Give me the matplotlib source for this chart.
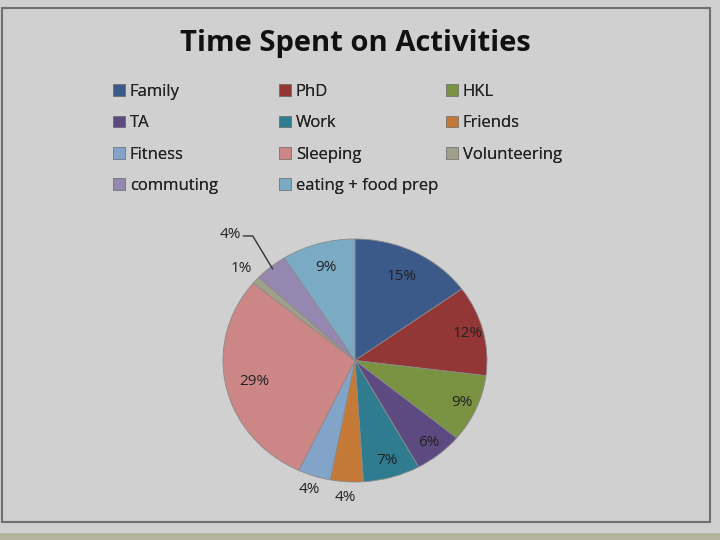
import numpy as np
import matplotlib.pyplot as plt
from matplotlib.patches import Rectangle, Patch

plt.rcParams['font.family'] = ['Open Sans', 'DejaVu Sans']

# data
activities = ["Family", "PhD", "HKL", "TA", "Work", "Friends", "Fitness",
              "Sleeping", "Volunteering", "commuting", "eating + food prep"]
percents = [15, 12, 9, 6, 7, 4, 4, 29, 1, 4, 9]
colors = ["#3b5a8a", "#923636", "#7a9342", "#5d4a80", "#2f7c91", "#c47a36",
          "#82a4c8", "#cc8686", "#a0a08a", "#9587b0", "#7aaac4"]

# label radius (fraction of pie radius) for each slice
label_r = [0.78, 0.88, 0.88, 0.88, 0.86, 1.13, 1.12, 0.78, 1.15, None, 0.80]

BG = "#d0d0d0"
fig = plt.figure(figsize=(7.2, 5.4), dpi=100, facecolor=BG)

# frame of the chart + screen strip at the bottom
fig.patches.append(Rectangle((2 / 720, 1 - 522 / 540), 708 / 720, 514 / 540,
                             transform=fig.transFigure, fill=False,
                             edgecolor="#707070", linewidth=1.5))
fig.patches.append(Rectangle((0, 0), 1, 7 / 540, transform=fig.transFigure,
                             facecolor="#b4b49c", edgecolor="none"))

fig.text(355 / 720, 1 - 43 / 540, "Time Spent on Activities", ha="center",
         va="center", fontsize=21, fontweight="bold", color="#111111")

# legend: three columns, row-major order, equally spaced
handles = [Patch(facecolor=c, edgecolor="#777777", linewidth=0.5) for c in colors]
col_x = [98, 264, 431]
for col, x in enumerate(col_x):
    idx = list(range(col, len(activities), 3))
    leg = fig.legend([handles[i] for i in idx], [activities[i] for i in idx],
                     loc="upper left", bbox_to_anchor=(x / 720, 1 - 69 / 540),
                     frameon=False, fontsize=12, handlelength=0.7,
                     handleheight=0.7, handletextpad=0.3, labelspacing=0.92,
                     labelcolor="#222222")
    fig.add_artist(leg)

# pie (slightly squashed like the screenshot)
ax = fig.add_axes([223 / 720, 1 - 482 / 540, 264 / 720, 243 / 540])
wedges, _ = ax.pie(percents, colors=colors, startangle=90, counterclock=False,
                   wedgeprops=dict(edgecolor="#8a8a8a", linewidth=0.6))
ax.set_aspect("auto")
ax.set_xlim(-1, 1)
ax.set_ylim(-1, 1)

for w, p, r in zip(wedges, percents, label_r):
    ang = np.deg2rad((w.theta1 + w.theta2) / 2)
    if r is None:
        # leader line for the small commuting slice
        x0, y0 = 0.98 * np.cos(ang), 0.98 * np.sin(ang)
        ax.plot([x0, x0 - 0.15, x0 - 0.22], [y0, y0 + 0.27, y0 + 0.27],
                color="#333333", linewidth=1, clip_on=False)
        ax.text(x0 - 0.24, y0 + 0.28, f"{p}%", ha="right", va="center",
                fontsize=11, color="#222222")
        continue
    ax.text(r * np.cos(ang), r * np.sin(ang), f"{p}%", ha="center",
            va="center", fontsize=11, color="#222222")

fig.savefig("out.png", dpi=100, facecolor=BG)
